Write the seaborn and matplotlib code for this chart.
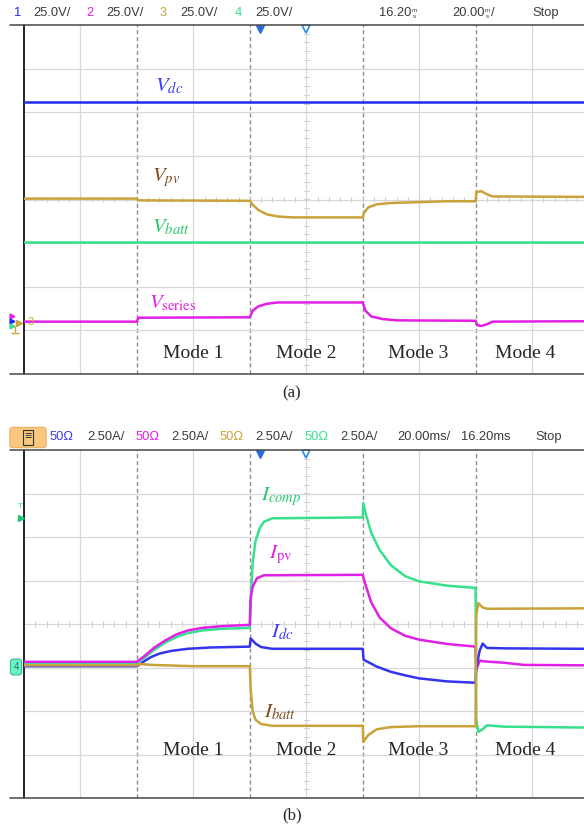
import numpy as np
import seaborn as sns
import matplotlib.pyplot as plt
from matplotlib.lines import Line2D
from matplotlib.patches import FancyBboxPatch

# ===============================
# Trace data read off the two scope screens
# time in ms (20 ms/div), level in divisions from screen centre
# ===============================

T_END = 198.4
mode_edges = [40, 80, 120, 160]
mode_names = ["Mode 1", "Mode 2", "Mode 3", "Mode 4"]
mode_pos = [60, 100, 139.5, 177.5]

# (a) voltages, 25 V/div
t_vdc = [0, T_END]
v_vdc = [2.24, 2.24]

t_vpv = [0, 40, 40.5, 80, 81, 83, 86, 90, 95, 120, 120.5, 122, 125, 130, 140, 150, 160, 160.3, 162, 164, 166, T_END]
v_vpv = [0.02, 0.02, -0.02, -0.03, -0.12, -0.24, -0.34, -0.39, -0.41, -0.41, -0.30, -0.18, -0.11, -0.08, -0.06, -0.04, -0.04, 0.17, 0.19, 0.12, 0.07, 0.06]

t_vbatt = [0, T_END]
v_vbatt = [-0.98, -0.98]

t_vser = [0, 40, 40.5, 80, 81, 83, 86, 90, 120, 121, 123, 127, 132, 160, 160.5, 162, 164, 166, T_END]
v_vser = [-2.80, -2.80, -2.71, -2.70, -2.55, -2.45, -2.39, -2.36, -2.36, -2.55, -2.68, -2.74, -2.77, -2.78, -2.88, -2.90, -2.86, -2.80, -2.79]

# (b) currents, 2.50 A/div
t_icomp = [0, 40, 43, 46, 50, 54, 58, 63, 70, 80, 80.3, 81, 82, 83.5, 85, 88, 120, 120.2, 121, 123, 126, 130, 135, 140, 150, 160,
           160.2, 161, 162.5, 164, 170, T_END]
v_icomp = [-0.89, -0.89, -0.76, -0.60, -0.43, -0.30, -0.21, -0.15, -0.11, -0.09, 0.5, 1.4, 1.9, 2.2, 2.35, 2.43, 2.45, 2.78, 2.55, 2.1, 1.7, 1.35, 1.1, 0.98, 0.88, 0.83,
           -2.2, -2.48, -2.42, -2.33, -2.36, -2.38]

t_ipv = [0, 40, 43, 46, 50, 54, 58, 63, 70, 80, 80.3, 81, 82.5, 85, 120, 121, 123, 126, 130, 135, 140, 150, 160,
         160.2, 161.5, 163, 170, 177, T_END]
v_ipv = [-0.87, -0.87, -0.72, -0.55, -0.38, -0.24, -0.15, -0.09, -0.05, -0.02, 0.6, 0.85, 1.05, 1.12, 1.13, 0.9, 0.5, 0.15, -0.1, -0.27, -0.36, -0.46, -0.52,
         -1.05, -0.84, -0.86, -0.89, -0.94, -0.95]

t_idc = [0, 40, 42, 45, 48, 52, 58, 66, 80, 80.3, 82, 84, 88, 120, 120.3, 125, 130, 135, 140, 150, 160,
         160.2, 161.5, 162.5, 164, 170, T_END]
v_idc = [-0.97, -0.97, -0.88, -0.76, -0.68, -0.62, -0.57, -0.54, -0.52, -0.33, -0.45, -0.53, -0.57, -0.57, -0.82, -0.98, -1.10, -1.18, -1.25, -1.32, -1.35,
         -1.0, -0.60, -0.45, -0.55, -0.56, -0.57]

t_ibatt = [0, 40, 41, 45, 60, 80, 80.3, 81, 82, 84, 88, 120, 120.2, 122, 125, 130, 140, 160, 160.2, 161, 162.5, 164, T_END]
v_ibatt = [-0.95, -0.95, -0.92, -0.94, -0.97, -0.97, -1.5, -2.0, -2.2, -2.3, -2.34, -2.34, -2.71, -2.55, -2.42, -2.37, -2.35, -2.35, 0.2, 0.48, 0.38, 0.35, 0.36]

BLUE = "#1f2cf2"
MAG = "#e11fe6"
GOLD = "#c9a23a"
GREEN = "#36e08c"
HDR = "#3a3a3a"

sns.set_style("white")
plt.rcParams["mathtext.fontset"] = "stix"
plt.rcParams["font.family"] = ["Liberation Sans", "DejaVu Sans"]

W, H = 584, 833
fig = plt.figure(figsize=(W / 100, H / 100), dpi=100)


def fx(x):
    return x / W


def fy(y):
    return 1 - y / H


def scope_axes(top, bottom):
    ax = fig.add_axes([fx(24), fy(bottom), fx(W - 24), (bottom - top) / H])
    ax.set_xlim(0, T_END)
    ax.set_ylim(-4, 4)
    ax.set_xticks([])
    ax.set_yticks([])
    for k in range(1, 10):
        if k * 20 in mode_edges:
            ax.axvline(k * 20, color="#8e8e8e", lw=1.0, ls=(0, (3, 2)), zorder=1)
        else:
            ax.axvline(k * 20, color="#d8d8d8", lw=0.9, zorder=1)
    for j in range(-3, 4):
        ax.axhline(j, color="#d8d8d8", lw=0.9, zorder=1)
    # minor ticks along the centre lines
    for x in np.arange(4, T_END, 4):
        ax.plot([x, x], [-0.06, 0.06], color="#cfcfcf", lw=0.7, zorder=1)
    for y in np.arange(-3.8, 4, 0.2):
        ax.plot([99.2, 100.8], [y, y], color="#cfcfcf", lw=0.7, zorder=1)
    for s in ["top", "right", "bottom"]:
        ax.spines[s].set_visible(False)
    ax.spines["left"].set_color("black")
    ax.spines["left"].set_linewidth(1.2)
    fig.add_artist(Line2D([fx(10), 1], [fy(top), fy(top)], color="#555555", lw=1.2))
    fig.add_artist(Line2D([fx(10), 1], [fy(bottom), fy(bottom)], color="#555555", lw=1.2))
    # trigger markers
    ax.plot([83.5], [3.9], marker="v", ms=6, color="#2a6be0", clip_on=False, zorder=5)
    ax.plot([100], [3.9], marker="v", ms=6, mfc="white", mec="#2a8be0", mew=1.2, clip_on=False, zorder=5)
    return ax


def trace(ax, t, v, color):
    sns.lineplot(x=t, y=v, ax=ax, color=color, lw=1.8, estimator=None, sort=False, legend=False, zorder=3)


def fig_marker(x, y, marker, color, ms):
    fig.add_artist(Line2D([fx(x)], [fy(y)], marker=marker, color=color, ms=ms, mew=1.0, lw=0))


serif = ["Liberation Serif", "DejaVu Serif"]

# ===============================
# (a) voltage screen
# ===============================
ax1 = scope_axes(25, 374)
trace(ax1, t_vdc, v_vdc, BLUE)
trace(ax1, t_vbatt, v_vbatt, GREEN)
trace(ax1, t_vpv, v_vpv, GOLD)
trace(ax1, t_vser, v_vser, MAG)

ax1.text(46.3, 2.6, r"$V_{dc}$", color="#3b3bff", fontsize=15, va="center")
ax1.text(45.2, 0.5, r"$V_{pv}$", color="#7a4a1c", fontsize=15, va="center")
ax1.text(45.2, -0.64, r"$V_{batt}$", color="#22c766", fontsize=15, va="center")
ax1.text(44.4, -2.37, r"$V_{\mathrm{series}}$", color=MAG, fontsize=15, va="center")
for name, x in zip(mode_names, mode_pos):
    ax1.text(x, -3.53, name, family=serif, fontsize=14, ha="center", va="center")

# header (a)
hy = fy(13)
hdr_a = [(14, "1", BLUE), (33, "25.0V/", HDR), (86, "2", MAG), (106, "25.0V/", HDR),
         (160, "3", GOLD), (180, "25.0V/", HDR), (235, "4", GREEN), (255, "25.0V/", HDR),
         (379, "16.20", HDR), (452, "20.00", HDR), (532, "Stop", HDR)]
for x, s, c in hdr_a:
    fig.text(fx(x), hy, s, color=c, fontsize=9.3, va="center")
for x in (412, 485):
    fig.text(fx(x), fy(10), "m", color=HDR, fontsize=4.5, va="center")
    fig.text(fx(x + 1), fy(16), "s", color=HDR, fontsize=4.5, va="center")
fig.text(fx(491), hy, "/", color=HDR, fontsize=9.3, va="center")

# ground markers (a), drawn as symbols
fig_marker(12, 316, ">", MAG, 3.5)
fig_marker(12, 321, ">", BLUE, 3.5)
fig_marker(12, 326, ">", GREEN, 3.5)
fig_marker(19, 323, ">", GOLD, 4.5)
fig_marker(15, 333, "_", GOLD, 6)
fig_marker(15, 329, "|", GOLD, 4)
fig.text(fx(31), fy(322), "3", color=GOLD, fontsize=8, va="center", ha="center")

fig.text(0.5, fy(393), "(a)", family=serif, fontsize=12, ha="center", va="center")

# ===============================
# (b) current screen
# ===============================
ax2 = scope_axes(450, 798)
trace(ax2, t_icomp, v_icomp, GREEN)
trace(ax2, t_ipv, v_ipv, MAG)
trace(ax2, t_idc, v_idc, "#3434ee")
trace(ax2, t_ibatt, v_ibatt, GOLD)

ax2.text(84.0, 2.92, r"$I_{comp}$", color="#22c770", fontsize=15, va="center")
ax2.text(86.8, 1.6, r"$I_{\mathrm{pv}}$", color=MAG, fontsize=15, va="center")
ax2.text(87.6, -0.18, r"$I_{dc}$", color="#3a3af0", fontsize=15, va="center")
ax2.text(85.2, -2.02, r"$I_{batt}$", color="#7a4a1c", fontsize=15, va="center")
for name, x in zip(mode_names, mode_pos):
    ax2.text(x, -2.9, name, family=serif, fontsize=14, ha="center", va="center")

# header (b)
btn = FancyBboxPatch((fx(11), fy(446)), fx(34), 17 / H, boxstyle="round,pad=0.002,rounding_size=0.004",
                     facecolor="#f9c87e", edgecolor="#eab060", lw=0.8, transform=fig.transFigure)
fig.add_artist(btn)
fig.text(fx(28), fy(437.5), "≡", color="#333333", fontsize=9, ha="center", va="center",
         bbox=dict(facecolor="none", edgecolor="#333333", lw=0.8, boxstyle="square,pad=0.12"))
hy = fy(437)
hdr_b = [(50, "50Ω", "#3a3af0"), (87, "2.50A/", HDR), (136, "50Ω", MAG), (171, "2.50A/", HDR),
         (220, "50Ω", GOLD), (255, "2.50A/", HDR), (305, "50Ω", GREEN), (340, "2.50A/", HDR),
         (397, "20.00ms/", HDR), (461, "16.20ms", HDR), (535, "Stop", HDR)]
for x, s, c in hdr_b:
    fig.text(fx(x), hy, s, color=c, fontsize=9.3, va="center")

# ground / trigger markers (b)
fig.text(fx(16), fy(667), "4", color="#1a7a5a", fontsize=7, ha="center", va="center",
         bbox=dict(facecolor="#6ff2cc", edgecolor="#2bbf8f", lw=0.8, boxstyle="round,pad=0.3"))
fig.text(fx(20), fy(506), "T", color=GREEN, fontsize=6, ha="center", va="center")
fig_marker(21, 518, ">", "#22c770", 5)

fig.text(0.5, fy(815), "(b)", family=serif, fontsize=12, ha="center", va="center")

fig.savefig("out.png", dpi=100, facecolor="white")
